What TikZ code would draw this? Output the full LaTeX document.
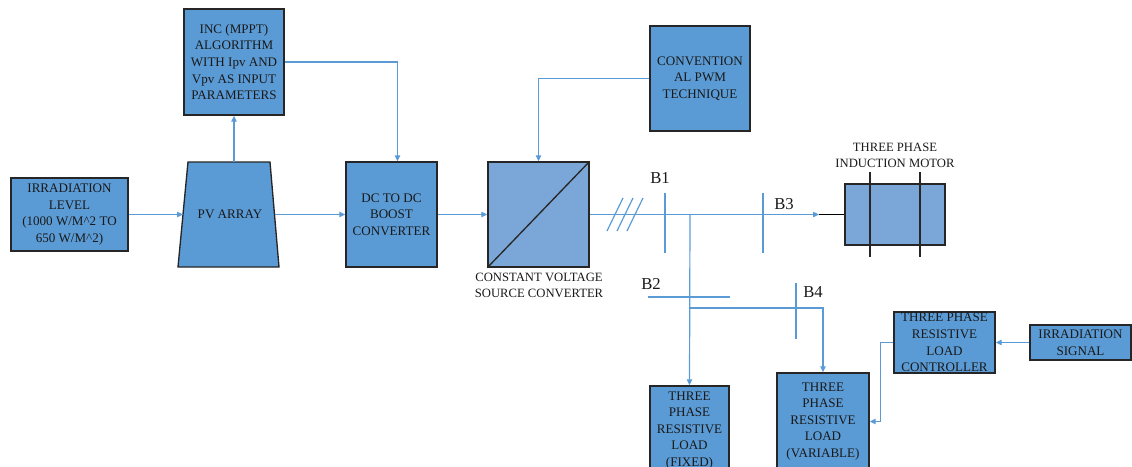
\documentclass[tikz,border=0pt]{standalone}
\usepackage{fontspec}
\setmainfont{Liberation Serif}
\usetikzlibrary{arrows.meta,calc}

\definecolor{boxblue}{RGB}{91,155,213}
\definecolor{lightblue}{RGB}{123,167,216}
\definecolor{edgegray}{RGB}{38,38,38}
\definecolor{wireblue}{RGB}{91,155,213}

\tikzset{
  blk/.style={draw=edgegray, fill=boxblue, line width=1pt, align=center,
    inner sep=1pt, text=black!90, font=\fontsize{9.8}{12.4}\selectfont},
  wire/.style={draw=wireblue, line width=0.9pt},
  feed/.style={wire, -{Triangle[length=4.5pt,width=4pt]}},
  busname/.style={font=\fontsize{12.5}{15}\selectfont, text=black!90, inner sep=0pt},
  caption/.style={align=center, inner sep=0pt, text=black!90, font=\fontsize{9.5}{12}\selectfont}
}

\begin{document}
\begin{tikzpicture}[x=0.75pt,y=0.75pt,yscale=-1,xscale=1]
\useasboundingbox (0,0) rectangle (1132,467);

% PV array outline
\coordinate (pvtl) at (188,162);
\coordinate (pvtr) at (270,162);
\coordinate (pvbr) at (279,267);
\coordinate (pvbl) at (178,267);
\draw[edgegray, fill=boxblue, line width=1pt] (pvtl) -- (pvtr) -- (pvbr) -- (pvbl) -- cycle;
\coordinate (pvin) at ($(pvtl)!0.5!(pvbl)$);
\coordinate (pvout) at ($(pvtr)!0.5!(pvbr)$);

% Blocks
\node[blk, minimum width=87.75pt, minimum height=54.75pt] (irr) at (69.5,214.5) {IRRADIATION\\LEVEL\\(1000 W/M\^{}2 TO\\650 W/M\^{}2)};
\node[blk, draw=none, fill=none] (pv) at (230,214.5) {PV ARRAY};
\node[blk, minimum width=75pt, minimum height=79.5pt] (inc) at (234,62) {INC (MPPT)\\ALGORITHM\\WITH Ipv AND\\Vpv AS INPUT\\PARAMETERS};
\node[blk, minimum width=68.25pt, minimum height=78.75pt] (dcdc) at (391.5,214.5) {DC TO DC\\BOOST\\CONVERTER};
\node[blk, fill=lightblue, minimum width=75.75pt, minimum height=78.75pt] (vsc) at (538.5,214.5) {};
\node[blk, minimum width=75pt, minimum height=78.75pt] (pwm) at (700,78.5) {CONVENTION\\AL PWM\\TECHNIQUE};
\node[blk, fill=lightblue, minimum width=75pt, minimum height=45.75pt] (motor) at (895,214.5) {};
\node[blk, minimum width=59.25pt, minimum height=66.75pt] (fixed) at (689.5,430.5) {THREE\\PHASE\\RESISTIVE\\LOAD\\(FIXED)};
\node[blk, minimum width=69pt, minimum height=72.75pt] (var) at (823,421.5) {THREE\\PHASE\\RESISTIVE\\LOAD\\(VARIABLE)};
\node[blk, minimum width=75.75pt, minimum height=45.75pt] (ctrl) at (944.5,342.5) {THREE PHASE\\RESISTIVE\\LOAD\\CONTROLLER};
\node[blk, minimum width=75.75pt, minimum height=26.25pt] (sig) at (1080.5,342.5) {IRRADIATION\\SIGNAL};

% converter diagonal and motor windings
\draw[edgegray, line width=1pt] (vsc.south west) -- (vsc.north east);
\foreach \wx in {870,920}
  \draw[edgegray, line width=1pt] (\wx,172) -- (\wx,257);

% Text Node
\node[caption] (vsclabel) at (539,285) {CONSTANT VOLTAGE\\SOURCE CONVERTER};
\node[caption] (motorlabel) at (895,155.5) {THREE PHASE\\INDUCTION MOTOR};

% Connectors
\draw[feed] (irr.east) -- (pvin);
\draw[feed] (pvout) -- (dcdc.west);
\draw[feed] (inc.south |- pvtl) -- (inc.south);
\draw[feed] (inc.east) -| ([xshift=4.5pt]dcdc.north);
\draw[feed] (dcdc.east) -- (vsc.west);
\draw[feed] (pwm.west) -| (vsc.north);
\draw[feed] (sig.west) -- (ctrl.east);
\draw[feed] (ctrl.west) -- ++(-13,0) |- (var.east);

% AC bus
\coordinate (busend) at (819,214.5);
\coordinate (tap) at (690,214.5);
\coordinate (tap2) at (690,308);
\draw[feed] (vsc.east) -- (busend);
\draw[black, line width=1pt] (busend) -- (motor.west);
\foreach \k in {0,1,2}
  \draw[wire] ({607+10*\k},231) -- ({623+10*\k},198);
\draw[feed] (tap) -- (fixed.north);
\draw[feed] (tap2) -| (var.north);

% Bus bars
\draw[wire] (665,193) -- (665,253);
\draw[wire] (763,193) -- (763,253);
\draw[wire] (648,297) -- (730,297);
\draw[wire] (796,283) -- (796,339);
\node[busname] (b1) at (660,178) {B1};
\node[busname] (b3) at (784,204) {B3};
\node[busname] (b2) at (651,284) {B2};
\node[busname] (b4) at (813,292) {B4};

\end{tikzpicture}
\end{document}
